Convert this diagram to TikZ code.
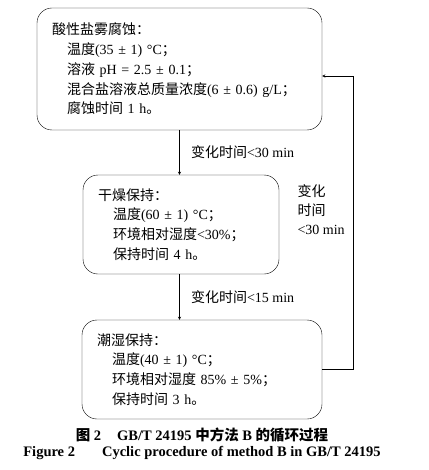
\documentclass[tikz,border=0pt]{standalone}
\usepackage{fontspec}
\setmainfont{Liberation Serif}
\newfontfamily\cjk{Noto Sans CJK SC}
\usepackage{tikz}
\newcommand{\zh}[1]{{\cjk #1}}
\newcommand{\ind}{\hspace*{15pt}}
\tikzset{
	stage/.style={draw, rectangle, rounded corners=15pt, inner xsep=15pt, inner ysep=0pt, align=left, font=\fontsize{14}{19.7}\selectfont},
	gap/.style={font=\fontsize{14}{19}\selectfont, align=left},
	caption/.style={font=\fontsize{14.5}{16}\selectfont\bfseries}
}

\begin{document}
\begin{tikzpicture}[x=1pt, y=-1pt]
				\useasboundingbox (0,0) rectangle (428,470);
				\node[stage, text width=255pt, minimum height=122pt] (S)at(179.5, 69) {\zh{酸性盐雾腐蚀：}\\ \ind\zh{温度}(35 ± 1) °C\zh{；}\\ \ind\zh{溶液} pH = 2.5 ± 0.1\zh{；}\\ \ind\zh{混合盐溶液总质量浓度}(6 ± 0.6) g/L\zh{；}\\ \ind\zh{腐蚀时间} 1 h\zh{。}};
				\node[stage, text width=166pt, minimum height=99pt] (D)at(181, 224.5) {\zh{干燥保持：}\\ \ind\zh{温度}(60 ± 1) °C\zh{；}\\ \ind\zh{环境相对湿度}<30\%\zh{；}\\ \ind\zh{保持时间} 4 h\zh{。}};
				\node[stage, text width=210pt, minimum height=99pt] (W)at(202, 369.5) {\zh{潮湿保持：}\\ \ind\zh{温度}(40 ± 1) °C\zh{；}\\ \ind\zh{环境相对湿度} 85\% ± 5\%\zh{；}\\ \ind\zh{保持时间} 3 h\zh{。}};
				\node[gap, anchor=west] (L)at(294, 210) {\zh{变化}\\\zh{时间}\\<30 min};
				\node[caption] (T1)at(202, 435) {\zh{图} 2\hspace{16pt}GB/T 24195 \zh{中方法} B \zh{的循环过程}};
				\node[caption] (T2)at(202, 453) {Figure 2\hspace{27pt}Cyclic procedure of method B in GB/T 24195};
				\draw[->, >=stealth, gap] (S.south) -- (S.south |- D.north) node[midway, right=8pt] {\zh{变化时间}<30 min};
				\draw[->, >=stealth, gap] (D.south -| S.south) -- (S.south |- W.north) node[midway, right=8pt] {\zh{变化时间}<15 min};
				\draw[->, >=stealth] (W.east) -| ++(31,0) |- ([yshift=-7pt]S.east);
			\end{tikzpicture}
\end{document}
